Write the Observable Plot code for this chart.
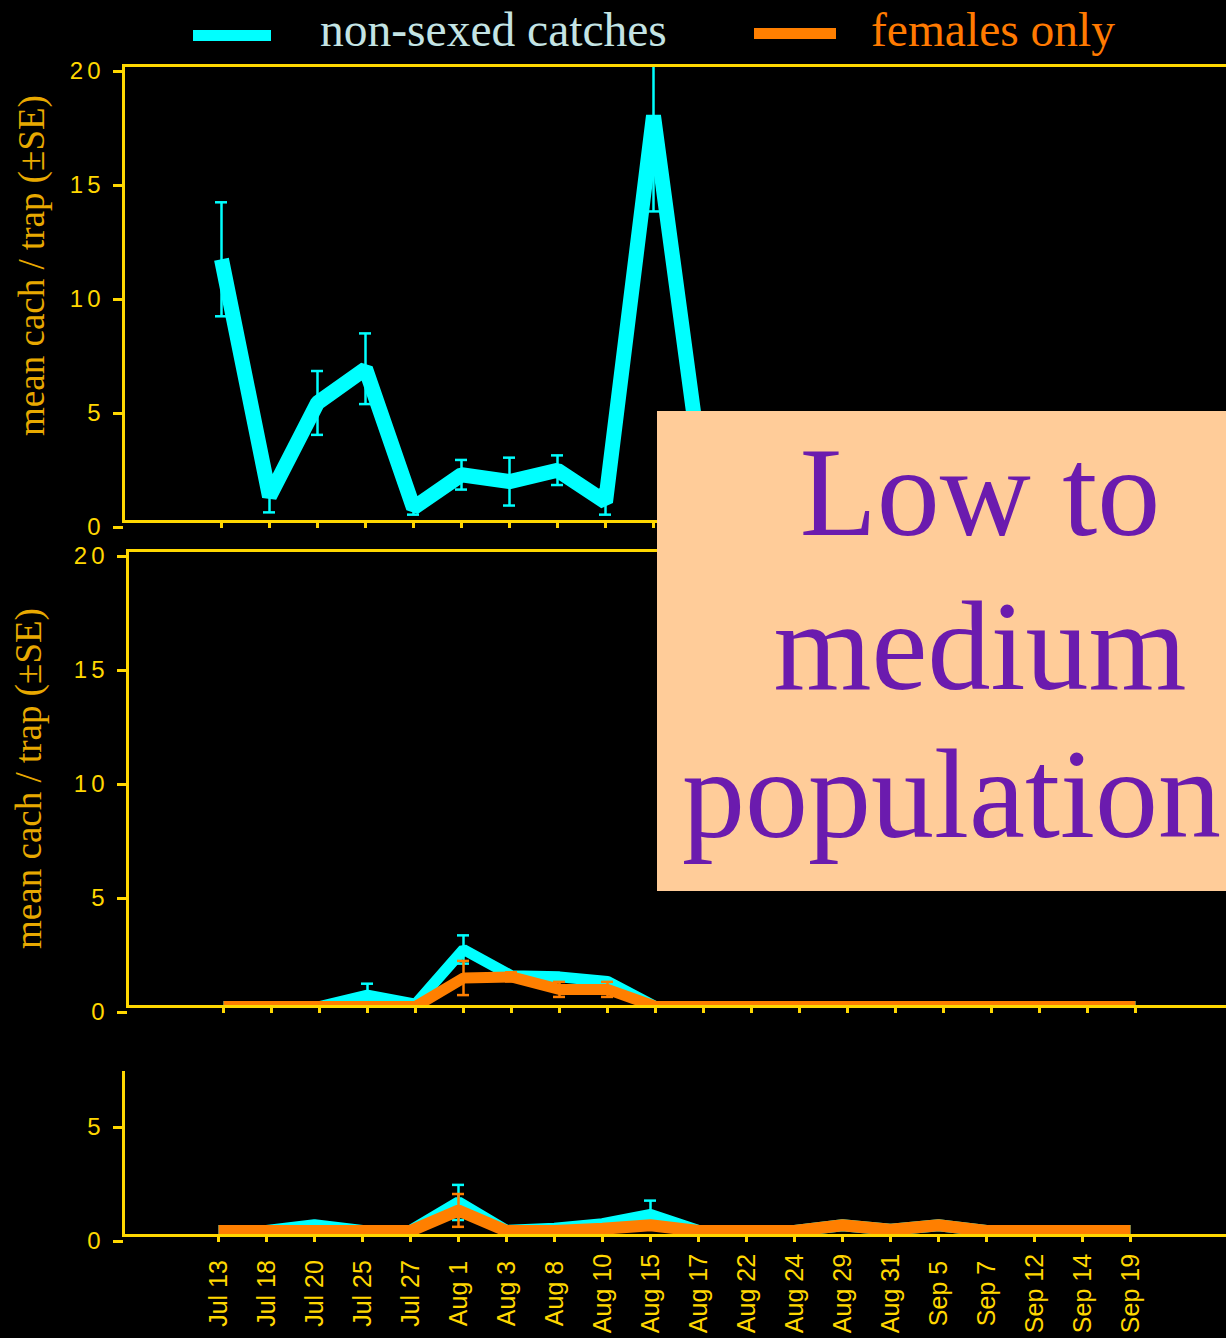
<!DOCTYPE html>
<html>
<head>
<meta charset="utf-8">
<script src="https://cdn.jsdelivr.net/npm/d3@7"></script>
<script src="https://cdn.jsdelivr.net/npm/@observablehq/plot@0.6"></script>
<style>
  html, body { margin: 0; padding: 0; background: #000; }
  #wrap { position: relative; width: 1226px; height: 1338px; background: #000; overflow: hidden; }
  .panel { position: absolute; left: 0; width: 1226px; }
  .panel svg { overflow: visible; }
  g[aria-label="y-axis tick label"] text { letter-spacing: 4px; }
  .sw { position: absolute; }
  .lg { position: absolute; font-family: "Liberation Serif", "Times New Roman", serif; font-size: 47.5px; line-height: 47.5px; white-space: nowrap; }
  #box { position: absolute; left: 657px; top: 411px; width: 600px; height: 480px; background: #FFCC99; }
  .big { position: absolute; font-family: "Liberation Serif", "Times New Roman", serif; font-size: 126px; line-height: 126px; color: #6B1BAE; white-space: nowrap; }
</style>
</head>
<body>
<div id="wrap">
  <div class="sw" style="left:193px;top:30px;width:78px;height:11px;background:#00FFFF"></div>
  <div class="lg" style="left:320px;top:7px;color:#C4E4E4">non-sexed catches</div>
  <div class="sw" style="left:754px;top:28px;width:82px;height:11px;background:#FF7F00"></div>
  <div class="lg" style="left:871px;top:7px;color:#FF7A00">females only</div>
  <div id="p1" class="panel"></div>
  <div id="p2" class="panel"></div>
  <div id="p3" class="panel"></div>
  <div id="box"></div>
  <div class="big" style="left:657px;width:646px;text-align:center;top:430px">Low to</div>
  <div class="big" style="left:657px;width:646px;text-align:center;top:584px">medium</div>
  <div class="big" style="left:682px;top:732px">population</div>
</div>
<script>
// ---------------- data ----------------
const dates = ["Jul 13","Jul 18","Jul 20","Jul 25","Jul 27","Aug 1","Aug 3","Aug 8","Aug 10","Aug 15",
               "Aug 17","Aug 22","Aug 24","Aug 29","Aug 31","Sep 5","Sep 7","Sep 12","Sep 14","Sep 19"];

// top panel: non-sexed catches (visible part, the rest is hidden behind the label box)
const topNonSexed   = [11.5, 1.1, 5.2, 6.7, 0.6, 2.05, 1.75, 2.25, 0.85, 17.8, 2.2];
const topNonSexedSE = [2.5, 0.7, 1.4, 1.55, 0.3, 0.65, 1.05, 0.65, 0.55, 4.2, 0.5];

// middle panel
const midNonSexed   = [0, 0, 0, 0.5, 0.1, 2.5, 1.35, 1.3, 1.1, 0, 0, 0, 0, 0, 0, 0, 0, 0, 0, 0];
const midNonSexedSE = [0, 0, 0, 0.5, 0, 0.62, 0, 0, 0, 0, 0, 0, 0, 0, 0, 0, 0, 0, 0, 0];
const midFemales    = [0, 0, 0, 0, 0, 1.25, 1.3, 0.75, 0.75, 0, 0, 0, 0, 0, 0, 0, 0, 0, 0, 0];
const midFemalesSE  = [0, 0, 0, 0, 0, 0.75, 0.2, 0.33, 0.33, 0, 0, 0, 0, 0, 0, 0, 0, 0, 0, 0];

// bottom panel
const botNonSexed   = [0.2, 0.2, 0.45, 0.2, 0.2, 1.45, 0.2, 0.3, 0.5, 0.9, 0.2, 0.2, 0.2, 0.45, 0.25, 0.45, 0.2, 0.2, 0.2, 0.2];
const botNonSexedSE = [0, 0, 0, 0, 0, 0.77, 0, 0, 0, 0.63, 0, 0, 0, 0, 0, 0, 0, 0, 0, 0];
const botFemales    = [0.2, 0.2, 0.2, 0.2, 0.2, 1.1, 0.2, 0.2, 0.3, 0.45, 0.2, 0.2, 0.2, 0.45, 0.25, 0.45, 0.2, 0.2, 0.2, 0.2];
const botFemalesSE  = [0, 0, 0, 0, 0, 0.72, 0, 0, 0, 0, 0, 0, 0, 0, 0, 0, 0, 0, 0, 0];

const yLabel = "mean cach / trap (±SE)";

// ---------------- styles ----------------
const AXIS = "#FFD700";
const TICKTXT = "#FFD700";
const LABEL = "#E8A900";
const CYAN = "#00FFFF";
const ORANGE = "#FF7F00";

const rows = (vals, se) => vals.map((v, i) => ({date: dates[i], v, se: se[i]}));

function makePanel(o) {
  const marks = [];
  for (const s of o.series) {
    marks.push(Plot.line(s.data, {x: "date", y: "v", stroke: s.color, strokeWidth: s.width,
      strokeLinejoin: "bevel", strokeLinecap: "butt", clip: true}));
    const eb = s.data.filter(d => d.se > 0);
    marks.push(Plot.ruleX(eb, {x: "date", y1: d => d.v - d.se, y2: d => d.v + d.se,
      stroke: s.color, strokeWidth: 2.5, clip: true}));
    marks.push(Plot.ruleY(eb, {x1: "date", x2: "date", y: d => d.v + d.se, insetLeft: -6, insetRight: -6,
      stroke: s.color, strokeWidth: 2.5, clip: true}));
    marks.push(Plot.ruleY(eb, {x1: "date", x2: "date", y: d => d.v - d.se, insetLeft: -6, insetRight: -6,
      stroke: s.color, strokeWidth: 2.5, clip: true}));
  }
  marks.push(Plot.ruleY(o.rules, {stroke: AXIS, strokeWidth: 3}));
  marks.push(Plot.frame({anchor: "left", stroke: AXIS, strokeWidth: 3}));
  marks.push(Plot.axisY({ticks: o.yTicks, tickSize: 10, tickPadding: 9, stroke: AXIS, strokeWidth: 3,
    fill: TICKTXT, fontSize: 24, fontFamily: "Liberation Sans, Arial, sans-serif", dy: 6, label: null,
    tickFormat: d => String(d)}));
  if (o.xLabels) {
    marks.push(Plot.axisX({tickSize: 7, tickRotate: -90, tickPadding: 51, textAnchor: "middle",
      stroke: AXIS, strokeWidth: 3, fill: TICKTXT, fontSize: 25,
      fontFamily: "Liberation Sans, Arial, sans-serif", label: null}));
  } else {
    marks.push(Plot.axisX({tickSize: 7, stroke: AXIS, strokeWidth: 3, fill: "none", label: null}));
  }
  if (o.ylabel) {
    marks.push(Plot.text([o.ylabel], {text: d => d, frameAnchor: "left", textAnchor: "middle",
      dx: o.ldx, dy: o.ldy, rotate: -90,
      fontFamily: "Liberation Serif, Times New Roman, serif", fontSize: 37, fill: LABEL}));
  }
  const chart = Plot.plot({
    width: 1226,
    height: o.height,
    marginLeft: o.marginLeft,
    marginRight: 0,
    marginTop: o.marginTop,
    marginBottom: o.marginBottom,
    style: {background: "transparent", color: AXIS, overflow: "visible"},
    x: {type: "point", domain: dates, range: o.xRange, padding: 0},
    y: {domain: o.yDomain},
    marks
  });
  const el = document.getElementById(o.id);
  el.style.top = o.top + "px";
  el.appendChild(chart);
}

makePanel({
  id: "p1", top: 40, height: 510, marginTop: 25, marginBottom: 29, marginLeft: 123,
  xRange: [220, 1134], yDomain: [0, 20], yTicks: [0, 5, 10, 15, 20], rules: [0, 20],
  ylabel: yLabel, ldx: -91, ldy: -28,
  series: [{data: rows(topNonSexed, topNonSexedSE), color: CYAN, width: 15}]
});

makePanel({
  id: "p2", top: 540, height: 490, marginTop: 10, marginBottom: 24, marginLeft: 127,
  xRange: [222, 1136], yDomain: [0, 20], yTicks: [0, 5, 10, 15, 20], rules: [0, 20],
  ylabel: yLabel, ldx: -98, ldy: 0,
  series: [
    {data: rows(midNonSexed, midNonSexedSE), color: CYAN, width: 11},
    {data: rows(midFemales, midFemalesSE), color: ORANGE, width: 11}
  ]
});

makePanel({
  id: "p3", top: 1050, height: 288, marginTop: 22, marginBottom: 103, marginLeft: 123,
  xRange: [217, 1131], yDomain: [0, 7.15], yTicks: [0, 5], rules: [0],
  xLabels: true,
  series: [
    {data: rows(botNonSexed, botNonSexedSE), color: CYAN, width: 12},
    {data: rows(botFemales, botFemalesSE), color: ORANGE, width: 12}
  ]
});
</script>
</body>
</html>
